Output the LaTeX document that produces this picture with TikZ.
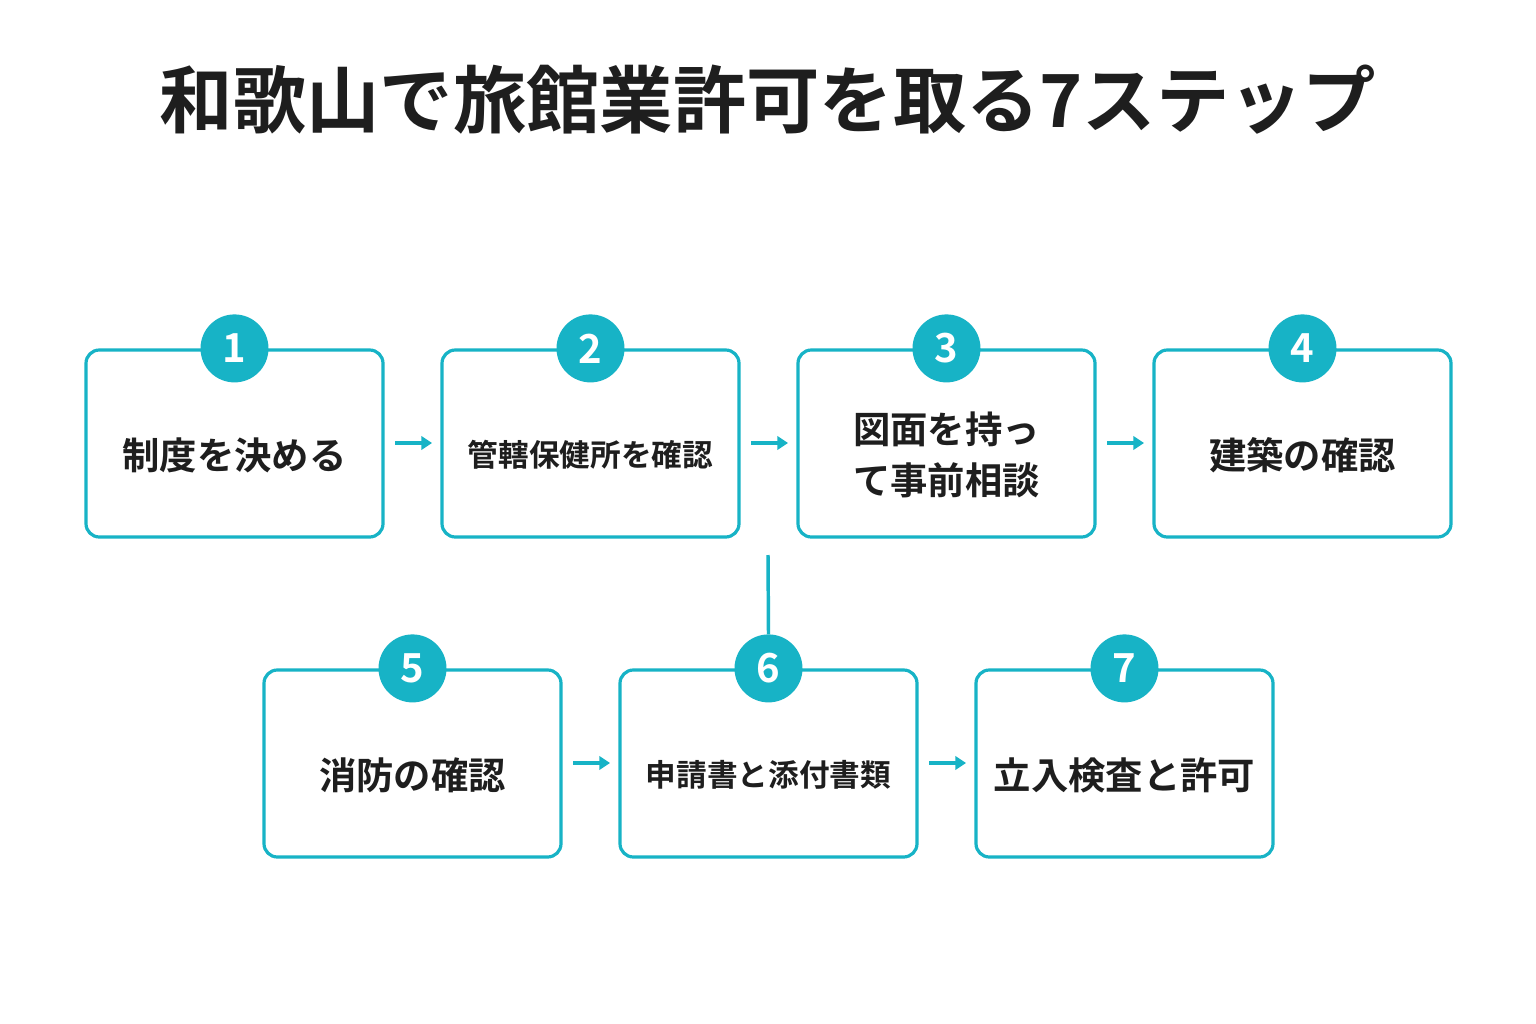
\documentclass[tikz,border=0pt]{standalone}
\usepackage{fontspec}
\newfontfamily\cjk{Noto Sans CJK JP Bold}
\newfontfamily\cjkb{Noto Sans CJK JP Bold}
\usetikzlibrary{arrows.meta}
\definecolor{teal1}{HTML}{17B3C6}
\definecolor{ink}{HTML}{1E1E1E}
\begin{document}
\begin{tikzpicture}[x=0.75pt,y=-0.75pt,
  box/.style={draw=teal1,line width=2.4pt,rounded corners=10pt,minimum width=297*0.75pt,minimum height=187*0.75pt,inner sep=0pt},
  lab/.style={align=center,font=\cjk\fontsize{28}{38}\selectfont,text=ink},
  slab/.style={lab,font=\cjk\fontsize{23}{28}\selectfont},
  num/.style={circle,fill=teal1,minimum size=68*0.75pt,inner sep=0pt,text=white,font=\cjkb\fontsize{30}{30}\selectfont},
  arr/.style={teal1,line width=2.6pt,-{Triangle[length=8pt,width=10pt]}}]
\useasboundingbox[fill=white] (0,0) rectangle (1536,1024);
\node[font=\cjkb\fontsize{55}{60}\selectfont,text=ink] (title) at (768,100) {和歌山で旅館業許可を取る7ステップ};
\node[box] (b1) at (234.5,443.5) {};
\node[box] (b2) at (590.5,443.5) {};
\node[box] (b3) at (946.5,443.5) {};
\node[box] (b4) at (1302.5,443.5) {};
\node[box] (b5) at (412.5,763.5) {};
\node[box] (b6) at (768.5,763.5) {};
\node[box] (b7) at (1124.5,763.5) {};
\node[lab]  (t1) at (234.5,455) {制度を決める};
\node[slab] (t2) at (590.5,455) {管轄保健所を確認};
\node[lab]  (t3) at (946.5,455) {図面を持っ\\て事前相談};
\node[lab]  (t4) at (1302.5,455) {建築の確認};
\node[lab]  (t5) at (412.5,775) {消防の確認};
\node[slab] (t6) at (768.5,775) {申請書と添付書類};
\node[lab]  (t7) at (1124.5,775) {立入検査と許可};
\foreach \i in {1,...,7}{\node[num] (n\i) at (b\i.north) {\i};}
\coordinate (a1s) at (395,443); \coordinate (a1e) at (432,443);
\coordinate (a2s) at (751,443); \coordinate (a2e) at (788,443);
\coordinate (a3s) at (1107,443); \coordinate (a3e) at (1144,443);
\coordinate (a5s) at (573,763); \coordinate (a5e) at (610,763);
\coordinate (a6s) at (929,763); \coordinate (a6e) at (966,763);
\foreach \a in {a1,a2,a3,a5,a6}{\draw[arr] (\a s) -- (\a e);}
\coordinate (v) at (768,555);
\draw[teal1,line width=2.6pt] (v) -- (n6.north);
\end{tikzpicture}
\end{document}
